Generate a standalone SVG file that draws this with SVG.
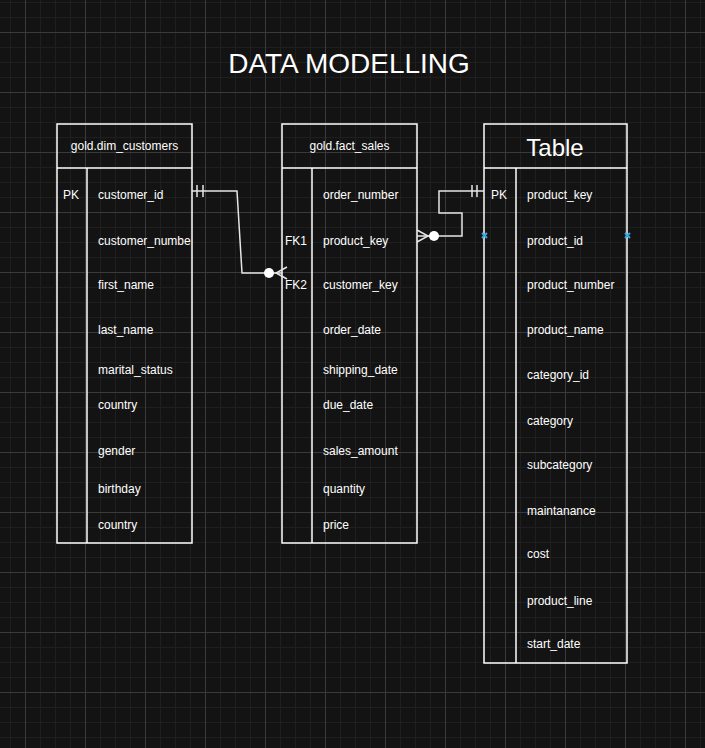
<svg xmlns="http://www.w3.org/2000/svg" width="705" height="748" viewBox="0 0 705 748">
<style>
.tbl{fill:none;stroke:#ffffff;stroke-width:1.5}
.t{font-family:"Liberation Sans",Arial,sans-serif;font-size:12px;fill:#ffffff}
.hd{font-family:"Liberation Sans",Arial,sans-serif;font-size:12px;fill:#ffffff;text-anchor:middle}
.con{fill:none;stroke:#e6e6e6;stroke-width:1.5}
.dot{fill:#ffffff}
.mk{stroke:#3aa6e0;stroke-width:2;fill:none}
</style>
<defs>
<pattern id="grid" x="25" y="32" width="60" height="60" patternUnits="userSpaceOnUse">
<rect x="15" y="0" width="1" height="60" fill="#1f1f1f"/>
<rect x="30" y="0" width="1" height="60" fill="#1f1f1f"/>
<rect x="45" y="0" width="1" height="60" fill="#1f1f1f"/>
<rect x="0" y="15" width="60" height="1" fill="#1f1f1f"/>
<rect x="0" y="30" width="60" height="1" fill="#1f1f1f"/>
<rect x="0" y="45" width="60" height="1" fill="#1f1f1f"/>
<rect x="0" y="0" width="1" height="60" fill="#3a3a3a"/>
<rect x="0" y="0" width="60" height="1" fill="#3a3a3a"/>
</pattern>
</defs>
<rect width="705" height="748" fill="#131313"/>
<rect width="705" height="748" fill="url(#grid)"/>

<text x="349" y="73" font-family="Liberation Sans,Arial,sans-serif" font-size="28" fill="#ffffff" text-anchor="middle">DATA MODELLING</text>

<g id="dim_customers">
<rect class="tbl" x="57" y="124" width="135" height="419"/>
<line class="tbl" x1="57" y1="168" x2="192" y2="168"/>
<line class="tbl" x1="87" y1="168" x2="87" y2="543"/>
<text class="hd" x="124.5" y="150">gold.dim_customers</text>
<text class="t" x="63" y="199">PK</text>
<text class="t" x="98" y="199">customer_id</text>
<text class="t" x="98" y="245">customer_numbe</text>
<text class="t" x="98" y="289">first_name</text>
<text class="t" x="98" y="334">last_name</text>
<text class="t" x="98" y="374">marital_status</text>
<text class="t" x="98" y="409">country</text>
<text class="t" x="98" y="455">gender</text>
<text class="t" x="98" y="493">birthday</text>
<text class="t" x="98" y="529">country</text>
</g>

<g id="fact_sales">
<rect class="tbl" x="282" y="124" width="135" height="419"/>
<line class="tbl" x1="282" y1="168" x2="417" y2="168"/>
<line class="tbl" x1="312" y1="168" x2="312" y2="543"/>
<text class="hd" x="349.5" y="150">gold.fact_sales</text>
<text class="t" x="323" y="199">order_number</text>
<text class="t" x="285" y="245">FK1</text>
<text class="t" x="323" y="245">product_key</text>
<text class="t" x="285" y="289">FK2</text>
<text class="t" x="323" y="289">customer_key</text>
<text class="t" x="323" y="334">order_date</text>
<text class="t" x="323" y="374">shipping_date</text>
<text class="t" x="323" y="409">due_date</text>
<text class="t" x="323" y="455">sales_amount</text>
<text class="t" x="323" y="493">quantity</text>
<text class="t" x="323" y="529">price</text>
</g>

<g id="products">
<rect class="tbl" x="484" y="124" width="143" height="539"/>
<line class="tbl" x1="484" y1="168" x2="627" y2="168"/>
<line class="tbl" x1="516" y1="168" x2="516" y2="663"/>
<text x="555" y="156" font-family="Liberation Sans,Arial,sans-serif" font-size="24" fill="#ffffff" text-anchor="middle">Table</text>
<text class="t" x="491" y="199">PK</text>
<text class="t" x="527" y="199">product_key</text>
<text class="t" x="527" y="245">product_id</text>
<text class="t" x="527" y="289">product_number</text>
<text class="t" x="527" y="334">product_name</text>
<text class="t" x="527" y="379">category_id</text>
<text class="t" x="527" y="425">category</text>
<text class="t" x="527" y="469">subcategory</text>
<text class="t" x="527" y="515">maintanance</text>
<text class="t" x="527" y="558">cost</text>
<text class="t" x="527" y="605">product_line</text>
<text class="t" x="527" y="648">start_date</text>
<path class="mk" d="M482,233 L487,238 M487,233 L482,238"/>
<path class="mk" d="M625,233 L630,238 M630,233 L625,238"/>
</g>

<g id="connectors">
<path class="con" d="M192,191 H237 L242,273 H282"/>
<path class="con" d="M197,185 V197 M203,185 V197"/>
<circle class="dot" cx="269" cy="273" r="5"/>
<path class="con" d="M287,267 L276,273 L287,279"/>
<path class="con" d="M417,236 H462 V213 H439 V191 H484"/>
<path class="con" d="M472,185 V197 M477,185 V197"/>
<circle class="dot" cx="434" cy="236" r="5"/>
<path class="con" d="M417,230 L428,236 L417,242"/>
</g>
</svg>
